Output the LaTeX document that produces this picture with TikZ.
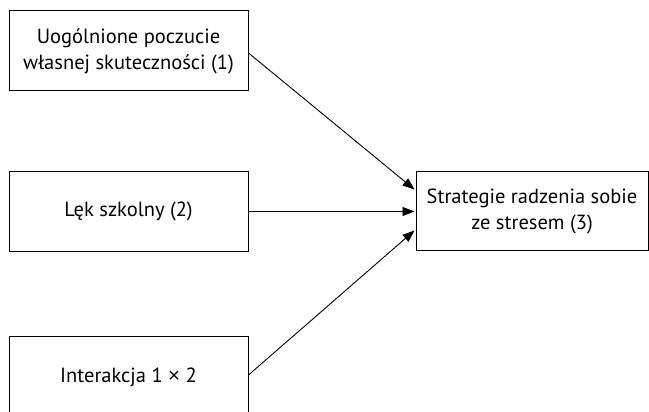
\documentclass[tikz,border=0pt]{standalone}
\usepackage{fontspec}
\setmainfont{PT Sans}
\newfontfamily\timesfont{Liberation Sans}
\usetikzlibrary{arrows.meta}
\begin{document}
\begin{tikzpicture}[x=1pt,y=1pt,
  box/.style={draw, line width=1pt, minimum width=239pt, minimum height=80pt, align=center, inner sep=0pt,
    font=\fontsize{20.5}{26}\selectfont},
  conn/.style={line width=0.9pt, -{Triangle[length=12pt,width=9pt]}}]
\clip (0,0) rectangle (649,412);
\path[use as bounding box] (0,0) rectangle (649,412);
\node[box] (t) at (128.5,361) {Uogólnione poczucie\\własnej skuteczności (1)};
\node[box] (m) at (128.5,200.5) {Lęk szkolny (2)};
\node[box] (b) at (128.5,35) {Interakcja 1 {\timesfont ×} 2};
\node[box, minimum width=232pt, minimum height=79pt] (s) at (532,200.5) {Strategie radzenia sobie\\ze stresem (3)};
\path (s.west) ++(-1,22) coordinate (s1);
\path (s.west) ++(-1,0) coordinate (s2);
\path (s.west) ++(-1,-19) coordinate (s3);
\path (t.east) ++(0,-2) coordinate (t1);
\path (b.east) ++(0,2) coordinate (b1);
\draw[conn] (t1) -- (s1);
\draw[conn] (m.east) -- (s2);
\draw[conn] (b1) -- (s3);
\end{tikzpicture}
\end{document}
